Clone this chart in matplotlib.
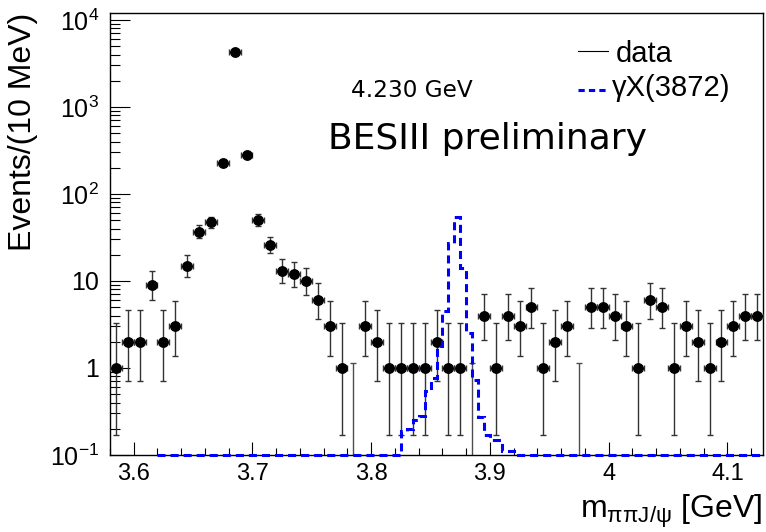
import numpy as np
import matplotlib
matplotlib.use("Agg")
import matplotlib.pyplot as plt
from matplotlib.lines import Line2D
from matplotlib.ticker import (FixedLocator, FixedFormatter, LogLocator,
                               MultipleLocator, NullFormatter, FuncFormatter)

# data histogram, 10 MeV bins starting at 3.58 GeV
bin_lo = 3.58
bin_w = 0.01
counts = [1, 2, 2, 9, 2, 3, 15, 37, 47, 227,
          4270, 281, 50, 26, 13, 12, 10, 6, 3, 1,
          0, 3, 2, 1, 1, 1, 1, 2, 1, 1,
          0, 4, 1, 4, 3, 5, 1, 2, 3, 0,
          5, 5, 4, 3, 1, 6, 5, 1, 3, 2,
          1, 2, 3, 4, 4]
zero_up = 1.148  # upper error drawn for empty bins

# gamma X(3872) MC shape, 5 MeV bins
sig_start = 3.62
sig_end = 4.13
sig_w = 0.005
sig_lo = 3.825
sig_vals = [0.19, 0.20, 0.25, 0.28, 0.55, 0.76, 1.8, 4.5, 27, 54,
            14, 2.5, 0.73, 0.27, 0.17, 0.15, 0.15, 0.11, 0.11]

x_ticks = [3.6, 3.7, 3.8, 3.9, 4.0, 4.1]
y_ticks = [0.1, 1, 10, 100, 1000, 10000]
y_ticklabels = ["$10^{-1}$", "1", "10", "$10^{2}$", "$10^{3}$", "$10^{4}$"]

plt.rcParams["font.family"] = ["Liberation Sans", "DejaVu Sans"]
plt.rcParams["mathtext.fontset"] = "custom"
plt.rcParams["mathtext.rm"] = "Liberation Sans"
plt.rcParams["mathtext.it"] = "Liberation Sans:italic"
plt.rcParams["lines.scale_dashes"] = False

fig = plt.figure(figsize=(7.66, 5.32), dpi=100)
ax = fig.add_axes([110 / 766, 1 - 455 / 532, 653 / 766, 442 / 532])

n = np.array(counts, dtype=float)
mass = bin_lo + bin_w * (np.arange(len(n)) + 0.5)
nz = n > 0
k = n[nz]
lo = k * (1 - 1 / (9 * k) - 1 / (3 * np.sqrt(k))) ** 3
hi = (k + 1) * (1 - 1 / (9 * (k + 1)) + 1 / (3 * np.sqrt(k + 1))) ** 3

ax.errorbar(mass[nz], k, xerr=bin_w / 2, yerr=[k - lo, hi - k],
            fmt="o", color="black", ms=6.8, ecolor="0.2", elinewidth=1,
            capsize=2, capthick=1, zorder=4)
nzero = int((~nz).sum())
ax.errorbar(mass[~nz], np.full(nzero, 1e-3),
            yerr=[np.zeros(nzero), np.full(nzero, zero_up - 1e-3)],
            fmt="none", ecolor="0.3", elinewidth=1, capsize=2, capthick=1)

# signal shape as a step outline; empty bins sit on the axis floor
edges = np.round(np.arange(sig_start, sig_end + 1e-9, sig_w), 4)
shape = np.zeros(len(edges) - 1)
i0 = int(round((sig_lo - sig_start) / sig_w))
shape[i0:i0 + len(sig_vals)] = sig_vals
shape = np.maximum(shape, 0.1)
ax.stairs(shape, edges, baseline=None, color="blue", lw=2.2,
          linestyle=(0, (5.8, 3.6)), clip_on=False, zorder=5)

ax.set_yscale("log")
ax.set_xlim(3.58, 4.13)
ax.set_ylim(0.1, 1.2e4)

ax.xaxis.set_major_locator(FixedLocator(x_ticks))
ax.xaxis.set_major_formatter(FuncFormatter(lambda v, p: "%g" % v))
ax.xaxis.set_minor_locator(MultipleLocator(0.02))
ax.yaxis.set_major_locator(FixedLocator(y_ticks))
ax.yaxis.set_major_formatter(FixedFormatter(y_ticklabels))
ax.yaxis.set_minor_locator(LogLocator(base=10, subs=np.arange(2, 10)))
ax.yaxis.set_minor_formatter(NullFormatter())

ax.tick_params(axis="x", which="major", direction="in", length=9.4, width=0.8,
               labelsize=17, pad=6)
ax.tick_params(axis="x", which="minor", direction="in", length=5, width=0.8)
ax.tick_params(axis="y", which="major", direction="in", length=14.4, width=0.8,
               labelsize=18, pad=8)
ax.tick_params(axis="y", which="minor", direction="in", length=7.2, width=0.8)
for s in ax.spines.values():
    s.set_linewidth(1.0)

ax.set_xlabel("$\\mathrm{m_{ππJ/ψ}}$ [GeV]", fontsize=23, loc="right")
ax.xaxis.set_label_coords(1.0, -0.085)
ax.set_ylabel("Events/(10 MeV)", fontsize=23, loc="top")
ax.yaxis.set_label_coords(-0.11, 1.0)

fig.text(351 / 766, 1 - 97 / 532, "4.230 GeV", fontsize=16.7,
         family="DejaVu Sans", ha="left", va="baseline")
fig.text(328 / 766, 1 - 149 / 532, "BESIII preliminary", fontsize=26,
         family="DejaVu Sans", ha="left", va="baseline")

# legend, drawn by hand the way ROOT places it
fig.add_artist(Line2D([578 / 766, 608 / 766], [1 - 51 / 532] * 2,
                      transform=fig.transFigure, color="black", lw=0.8))
fig.add_artist(Line2D([578 / 766, 608 / 766], [1 - 90 / 532] * 2,
                      transform=fig.transFigure, color="blue", lw=2.2,
                      dashes=(4.5, 3.0)))
fig.text(616 / 766, 1 - 62 / 532, "data", fontsize=21, ha="left", va="baseline")
fig.text(612 / 766, 1 - 96 / 532, "γX(3872)", fontsize=21, ha="left", va="baseline")

fig.savefig("out.png", dpi=100)
